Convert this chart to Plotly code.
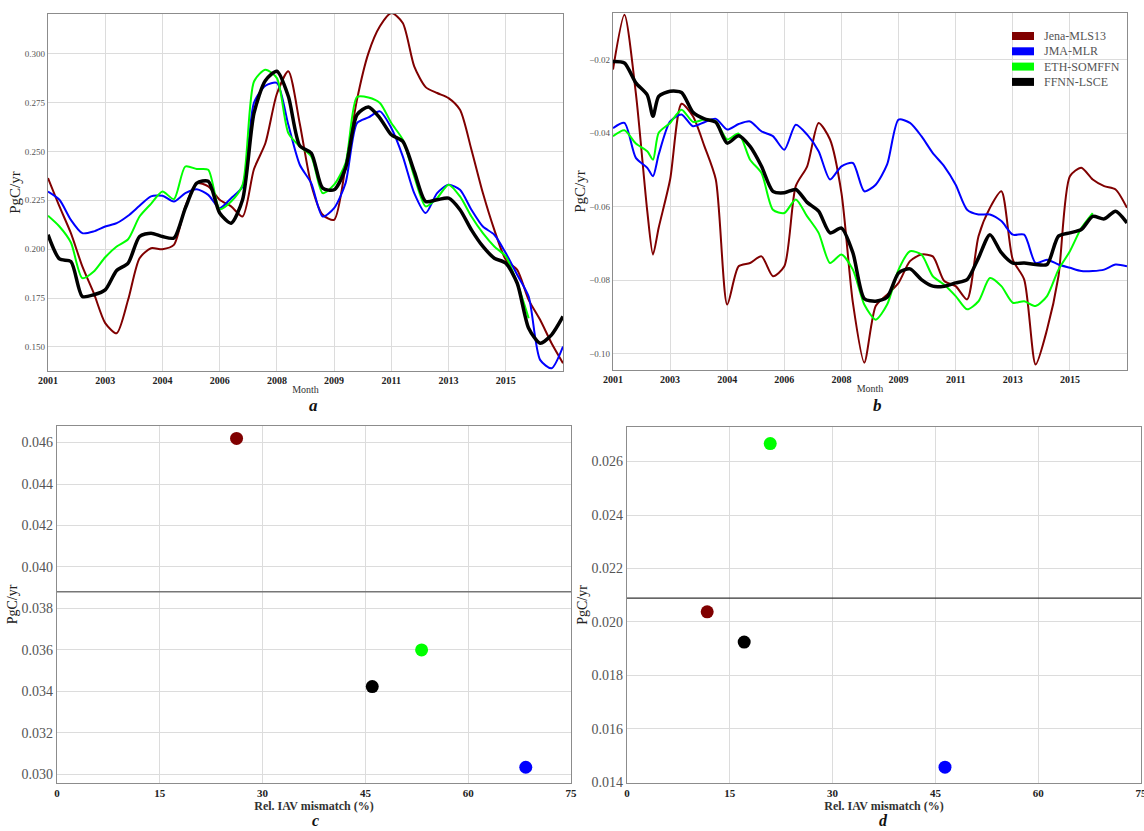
import plotly.graph_objects as go

W, H = 1144, 831

models = ["Jena-MLS13", "JMA-MLR", "ETH-SOMFFN", "FFNN-LSCE"]
colors = ["#800000", "#0000ff", "#00ff00", "#000000"]
widths = [2, 2, 2, 3.5]

# month index (0 = Jan 2001), sampled every 4 months (panel b has one extra sample at month 14)
months_a = list(range(0, 181, 4))
months_b = [0, 4, 8, 12, 14] + list(range(16, 181, 4))
tick_pos = [0, 20, 40, 60, 80, 100, 120, 140, 160]
tick_years = ["2001", "2003", "2004", "2006", "2008", "2009", "2011", "2013", "2015"]

# panel a
a_jena = [0.2364, 0.2219, 0.2082, 0.1912, 0.1775, 0.1622, 0.157, 0.1741, 0.1954, 0.2005,
          0.2000, 0.2022, 0.2219, 0.2338, 0.2321, 0.2253, 0.2219, 0.2167, 0.2410, 0.2543,
          0.2795, 0.2910, 0.2642, 0.2330, 0.2176, 0.2150, 0.2423, 0.2765, 0.3003, 0.3140,
          0.3208, 0.3157, 0.2935, 0.2829, 0.2799, 0.2773, 0.2713, 0.2509, 0.2287, 0.2099,
          0.1946, 0.1894, 0.1741, 0.1639, 0.1519, 0.1417]
a_jma = [0.2295, 0.2253, 0.2150, 0.2082, 0.2091, 0.2116, 0.2133, 0.2171, 0.2222, 0.2270,
         0.2273, 0.2244, 0.2287, 0.2307, 0.2278, 0.2210, 0.2261, 0.2321, 0.2750, 0.2836,
         0.2850, 0.2636, 0.2432, 0.2338, 0.2167, 0.2210, 0.2338, 0.2645, 0.2674, 0.2705,
         0.2620, 0.2475, 0.2287, 0.2185, 0.2287, 0.2330, 0.2304, 0.2202, 0.2116, 0.2074,
         0.1980, 0.1869, 0.1758, 0.1434, 0.1391, 0.1502]
a_eth = [0.2171, 0.2116, 0.2034, 0.1852, 0.1886, 0.1959, 0.2014, 0.2051, 0.2167, 0.2232,
         0.2295, 0.2256, 0.2423, 0.2410, 0.2406, 0.2205, 0.2244, 0.2329, 0.2858, 0.2918,
         0.2875, 0.2594, 0.2526, 0.2475, 0.2287, 0.2330, 0.2441, 0.2778, 0.2776, 0.2748,
         0.2645, 0.2560, 0.2372, 0.2219, 0.2261, 0.2330, 0.2270, 0.2167, 0.2082, 0.2014,
         0.1963, 0.1826, 0.1647, None, None, None]
a_ffnn = [0.2074, 0.1950, 0.1937, 0.1758, 0.1767, 0.1792, 0.1891, 0.1929, 0.2065, 0.2082,
          0.2065, 0.2057, 0.2210, 0.2338, 0.2347, 0.2185, 0.2133, 0.2253, 0.2696, 0.2863,
          0.2910, 0.2782, 0.2529, 0.2492, 0.2312, 0.2304, 0.2415, 0.2688, 0.2727, 0.2671,
          0.2585, 0.2551, 0.2398, 0.2244, 0.2253, 0.2261, 0.2202, 0.2099, 0.2014, 0.1954,
          0.1929, 0.1826, 0.1596, 0.1519, 0.1562, 0.1656]

# panel b
b_jena = [-0.0227, -0.0078, -0.0291, -0.0612, -0.0730, -0.0657, -0.0526, -0.0320, -0.0354, -0.0435, -0.0526,
          -0.0866, -0.0762, -0.0753, -0.0735, -0.0789, -0.0762, -0.0544, -0.0490, -0.0372, -0.0417,
          -0.0562, -0.0861, -0.1024, -0.0870, -0.0839, -0.0807, -0.0748, -0.0730, -0.0735, -0.0802,
          -0.0816, -0.0852, -0.0680, -0.0603, -0.0558, -0.0744, -0.0798, -0.1029, -0.0934, -0.0789,
          -0.0517, -0.0494, -0.0526, -0.0544, -0.0553, -0.0603]
b_jma = [-0.0386, -0.0372, -0.0467, -0.0494, -0.0517, -0.0458, -0.0368, -0.0349, -0.0381, -0.0370, -0.0361,
         -0.0390, -0.0375, -0.0368, -0.0395, -0.0408, -0.0445, -0.0377, -0.0404, -0.0449, -0.0526,
         -0.0490, -0.0481, -0.0558, -0.0540, -0.0485, -0.0363, -0.0372, -0.0408, -0.0454, -0.0490,
         -0.0540, -0.0608, -0.0621, -0.0621, -0.0639, -0.0676, -0.0676, -0.0753, -0.0744, -0.0757,
         -0.0766, -0.0775, -0.0775, -0.0771, -0.0757, -0.0762]
b_eth = [-0.0408, -0.0392, -0.0428, -0.0449, -0.0472, -0.0399, -0.0372, -0.0336, -0.0369, -0.0363, -0.0368,
         -0.0417, -0.0401, -0.0472, -0.0508, -0.0608, -0.0617, -0.0580, -0.0626, -0.0671, -0.0753,
         -0.0730, -0.0771, -0.0866, -0.0907, -0.0866, -0.0771, -0.0721, -0.0730, -0.0789, -0.0812,
         -0.0843, -0.0879, -0.0857, -0.0794, -0.0816, -0.0861, -0.0857, -0.0870, -0.0843, -0.0771,
         -0.0721, -0.0658, -0.0617, None, None, None]
b_ffnn = [-0.0205, -0.0209, -0.0263, -0.0296, -0.0354, -0.0300, -0.0286, -0.0289, -0.0343, -0.0361, -0.0370,
          -0.0427, -0.0407, -0.0436, -0.0490, -0.0558, -0.0562, -0.0553, -0.0588, -0.0612, -0.0671,
          -0.0658, -0.0725, -0.0850, -0.0857, -0.0846, -0.0780, -0.0769, -0.0798, -0.0816, -0.0816,
          -0.0807, -0.0798, -0.0739, -0.0676, -0.0725, -0.0753, -0.0753, -0.0757, -0.0757, -0.0680,
          -0.0671, -0.0662, -0.0626, -0.0633, -0.0612, -0.0644]

# panels c and d
c_mismatch = [26.2, 68.4, 53.2, 46.0]
c_value = [0.0462, 0.03034, 0.0360, 0.03423]
c_ref = 0.03881
d_mismatch = [11.7, 46.4, 20.9, 17.1]
d_value = [0.02038, 0.01457, 0.02667, 0.01925]
d_ref = 0.02089

FONT = "Liberation Serif"
GRID = "#dcdcdc"
SPINE = "#8c8c8c"

fig = go.Figure()

for name, col, lw, ya in zip(models, colors, widths, [a_jena, a_jma, a_eth, a_ffnn]):
    fig.add_trace(go.Scatter(x=months_a, y=ya, mode="lines", name=name,
                             line=dict(color=col, width=lw, shape="spline", smoothing=0.7),
                             xaxis="x", yaxis="y", showlegend=False))
for name, col, lw, yb in zip(models, colors, widths, [b_jena, b_jma, b_eth, b_ffnn]):
    fig.add_trace(go.Scatter(x=months_b, y=yb, mode="lines", name=name,
                             line=dict(color=col, width=lw, shape="spline", smoothing=0.7),
                             xaxis="x2", yaxis="y2", showlegend=False))

fig.add_trace(go.Scatter(x=c_mismatch, y=c_value, mode="markers", text=models,
                         marker=dict(color=colors, size=13), xaxis="x3", yaxis="y3", showlegend=False))
fig.add_trace(go.Scatter(x=d_mismatch, y=d_value, mode="markers", text=models,
                         marker=dict(color=colors, size=13), xaxis="x4", yaxis="y4", showlegend=False))

fig.add_shape(type="line", xref="x3 domain", yref="y3", x0=0, x1=1, y0=c_ref, y1=c_ref,
              line=dict(color="#777777", width=1.5))
fig.add_shape(type="line", xref="x4 domain", yref="y4", x0=0, x1=1, y0=d_ref, y1=d_ref,
              line=dict(color="#333333", width=1.2))

# legend for panel b: colour patches + labels
LEG_X0, LEG_X1, LEG_TX, LEG_Y0, LEG_DY, PATCH_H = 1012, 1034, 1042, 36, 15.3, 8
for i, (name, col) in enumerate(zip(models, colors)):
    yc = LEG_Y0 + i * LEG_DY
    fig.add_shape(type="rect", xref="paper", yref="paper", x0=LEG_X0 / W, x1=LEG_X1 / W,
                  y0=1 - (yc + PATCH_H / 2) / H, y1=1 - (yc - PATCH_H / 2) / H,
                  fillcolor=col, line=dict(width=0))
    fig.add_annotation(text=name, x=LEG_TX / W, y=1 - yc / H, xref="paper", yref="paper",
                       showarrow=False, xanchor="left", yanchor="middle",
                       font=dict(family=FONT, size=12, color="#555"))


def px(x0, x1):
    return [x0 / W, x1 / W]


def py(top, bottom):
    return [1 - bottom / H, 1 - top / H]


common = dict(showgrid=True, gridcolor=GRID, gridwidth=1, zeroline=False, showline=True,
              linecolor=SPINE, linewidth=1.2, mirror=True, ticks="", automargin=False)

xtop = dict(common, range=[0, 180], tickmode="array", tickvals=tick_pos,
            ticktext=["<b>%s</b>" % t for t in tick_years],
            tickfont=dict(family=FONT, size=10, color="#222"),
            title=dict(text="Month", font=dict(family=FONT, size=10, color="#333"), standoff=0))
xbot = dict(common, range=[0, 75], tickmode="array", tickvals=[0, 15, 30, 45, 60, 75],
            ticktext=["<b>%d</b>" % v for v in [0, 15, 30, 45, 60, 75]],
            tickfont=dict(family=FONT, size=11, color="#222"), ticklabeloverflow="allow",
            title=dict(text="<b>Rel. IAV mismatch (%)</b>", font=dict(family=FONT, size=12, color="#333"),
                       standoff=0))
ytitle = lambda s: dict(text="PgC/yr", font=dict(family=FONT, size=s, color="#222"), standoff=0)

fig.update_layout(
    width=W, height=H, margin=dict(l=0, r=0, t=0, b=0, autoexpand=False),
    paper_bgcolor="white", plot_bgcolor="white",
    font=dict(family=FONT), showlegend=False,
    xaxis=dict(xtop, domain=px(48, 563), anchor="y"),
    yaxis=dict(common, domain=py(14, 371), anchor="x", range=[0.1377, 0.3203], dtick=0.025,
               tick0=0.15, tickformat=".3f", tickfont=dict(family=FONT, size=9, color="#555"),
               title=ytitle(15)),
    xaxis2=dict(xtop, domain=px(613, 1127), anchor="y2"),
    yaxis2=dict(common, domain=py(13, 370), anchor="x2", range=[-0.1044, -0.0073], dtick=0.02,
                tick0=0, tickformat=".2f", tickfont=dict(family=FONT, size=9, color="#555"),
                title=ytitle(15)),
    xaxis3=dict(xbot, domain=px(57, 571), anchor="y3"),
    yaxis3=dict(common, domain=py(426, 783), anchor="x3", range=[0.02958, 0.0468], dtick=0.002,
                tick0=0, tickformat=".3f", tickfont=dict(family=FONT, size=14, color="#555"),
                title=ytitle(14)),
    xaxis4=dict(xbot, domain=px(627, 1141), anchor="y4"),
    yaxis4=dict(common, domain=py(427, 783), anchor="x4", range=[0.01398, 0.02729], dtick=0.002,
                tick0=0, tickformat=".3f", tickfont=dict(family=FONT, size=14, color="#555"),
                title=ytitle(14)),
)

for lab, xc, yc, anchor, fs in [("a", 313, 405, "middle", 17), ("b", 877, 405, "middle", 17),
                                ("c", 315, 831, "bottom", 16), ("d", 883, 831, "bottom", 16)]:
    fig.add_annotation(text="<b><i>%s</i></b>" % lab, x=xc / W, y=1 - yc / H, xref="paper", yref="paper",
                       showarrow=False, font=dict(family=FONT, size=fs, color="#111"),
                       xanchor="center", yanchor=anchor)

fig.write_html("out.html", config={"displayModeBar": False},
               post_script="document.body.style.margin='0';document.body.style.overflow='hidden';")
